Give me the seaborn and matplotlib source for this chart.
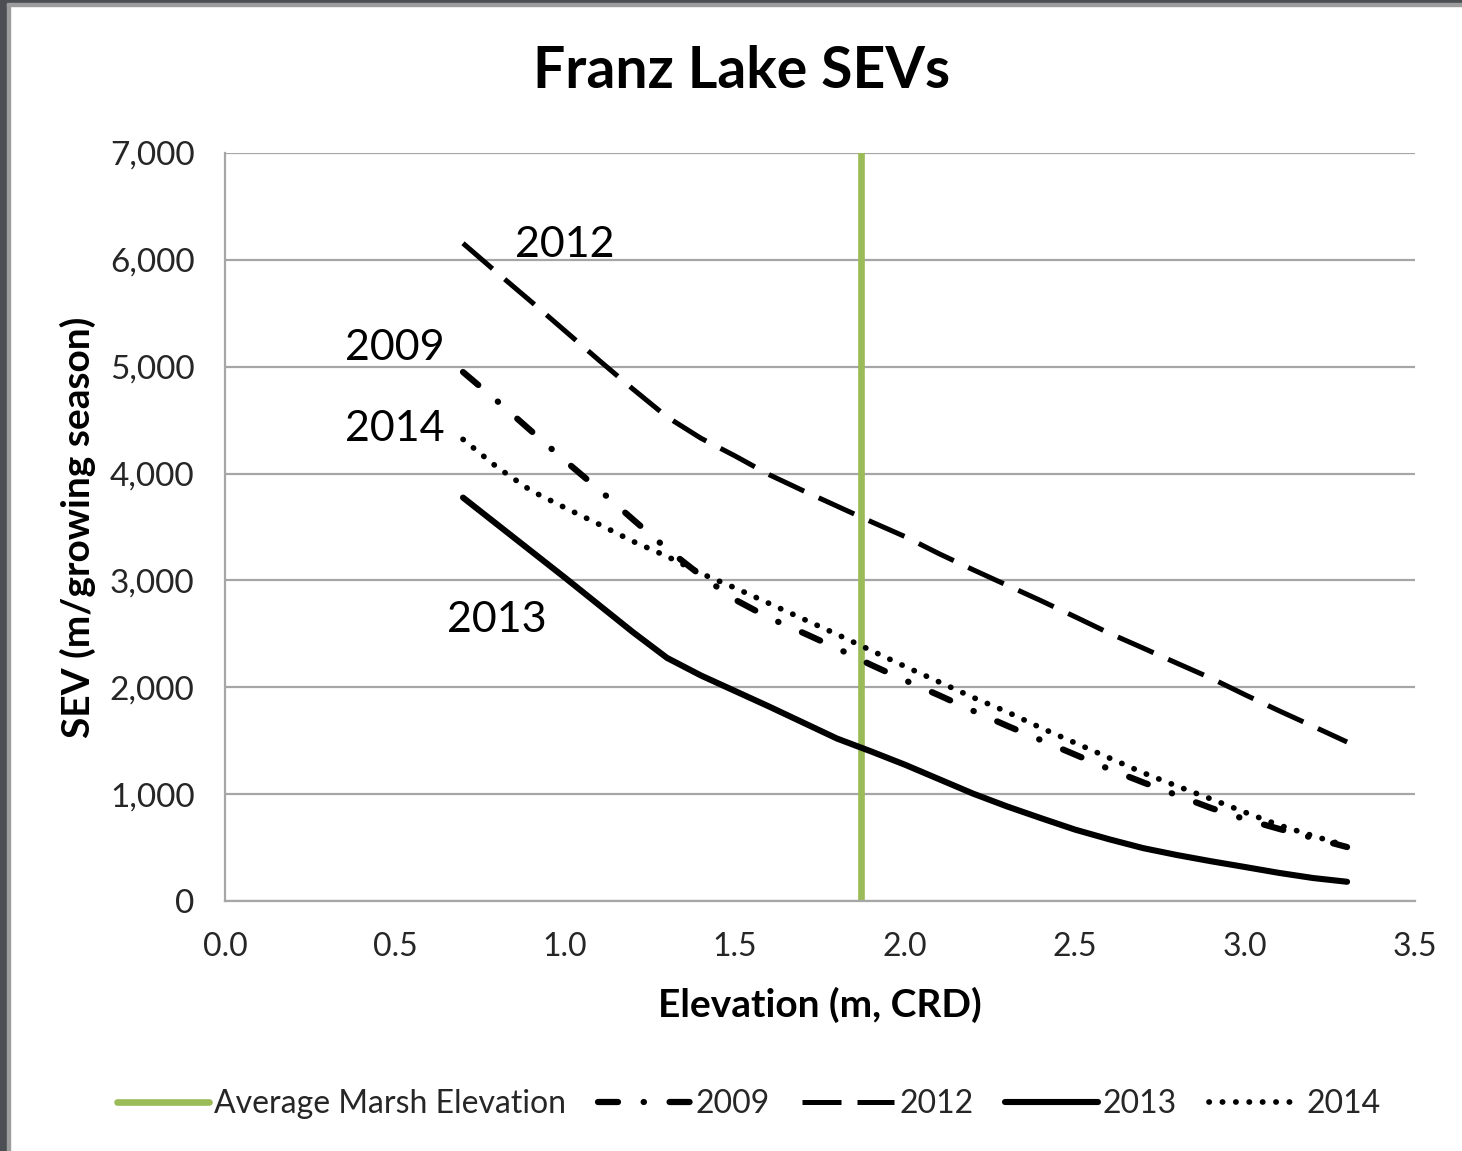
import matplotlib
matplotlib.use("Agg")
import matplotlib.pyplot as plt
from matplotlib.patches import Rectangle
from matplotlib.lines import Line2D
from matplotlib.ticker import FuncFormatter
import numpy as np
import pandas as pd
import seaborn as sns

# elevation (m, CRD) and SEV (m/growing season)
elevation = [0.7, 0.8, 0.9, 1.0, 1.1, 1.2, 1.3, 1.4, 1.5, 1.6, 1.7, 1.8, 1.9, 2.0,
             2.1, 2.2, 2.3, 2.4, 2.5, 2.6, 2.7, 2.8, 2.9, 3.0, 3.1, 3.2, 3.3]
sev_2009 = [4950, 4680, 4400, 4120, 3850, 3570, 3295, 3045, 2820, 2650, 2510, 2365,
            2210, 2065, 1925, 1780, 1640, 1505, 1370, 1235, 1110, 990, 870, 765,
            675, 590, 505]
sev_2012 = [6155, 5880, 5610, 5335, 5060, 4790, 4530, 4330, 4165, 3990, 3840, 3695,
            3550, 3410, 3250, 3100, 2955, 2810, 2660, 2507, 2367, 2225, 2085, 1930,
            1780, 1635, 1488]
sev_2013 = [3775, 3525, 3275, 3025, 2770, 2515, 2275, 2110, 1965, 1820, 1670, 1520,
            1400, 1275, 1140, 1005, 885, 775, 668, 578, 495, 430, 372, 318, 263,
            215, 180]
sev_2014 = [4320, 4060, 3840, 3680, 3525, 3365, 3225, 3065, 2930, 2785, 2640, 2495,
            2345, 2195, 2050, 1905, 1770, 1620, 1480, 1340, 1200, 1075, 955, 830,
            710, 610, 515]
marsh_elevation = 1.87

years = ['2009', '2012', '2013', '2014']
label_pos = {'2012': (1.0, 6140), '2009': (0.5, 5175),
             '2014': (0.5, 4420), '2013': (0.8, 2630)}

df = pd.DataFrame({'elevation': elevation * 4,
                   'sev': sev_2009 + sev_2012 + sev_2013 + sev_2014,
                   'year': np.repeat(years, len(elevation))})

styles = {
    '2009': dict(lw=4.5, dashes=(3.2, 4.1, 0.05, 4.1), capstyle='round'),
    '2012': dict(lw=3.6, dashes=(7.8, 3.2), capstyle='butt'),
    '2013': dict(lw=4.4, dashes=None, capstyle='round'),
    '2014': dict(lw=4.1, dashes=(0.05, 2.3), capstyle='round'),
}

sns.set_theme(style="white")
plt.rcParams['font.family'] = ['Lato', 'DejaVu Sans']

fig = plt.figure(figsize=(14.62, 11.51), dpi=100)
ax = fig.add_axes([0.1539, 0.2172, 0.8140, 0.6499])

grid_col = '#a6a6a6'
for v in range(0, 7001, 1000):
    ax.axhline(v, color=grid_col, lw=1.6, zorder=0)

ax.axvline(marsh_elevation, color='#9bbb59', lw=4.8, zorder=1)

for yr in years:
    st = styles[yr]
    sub = df[df['year'] == yr]
    sns.lineplot(data=sub, x='elevation', y='sev', ax=ax, color='black',
                 lw=st['lw'], zorder=3, legend=False)
    line = ax.lines[-1]
    if st['dashes'] is not None:
        line.set_dashes(st['dashes'])
    line.set_dash_capstyle(st['capstyle'])
    line.set_solid_capstyle('round')
    line.set_solid_joinstyle('round')

for yr, (tx, ty) in label_pos.items():
    ax.text(tx, ty, yr, ha='center', va='center', fontsize=31, color='black')

ax.set_xlim(0, 3.5)
ax.set_ylim(0, 7000)
ax.set_xticks(np.arange(0, 3.51, 0.5))
ax.set_yticks(range(0, 7001, 1000))
ax.xaxis.set_major_formatter(FuncFormatter(lambda v, p: f'{v:.1f}'))
ax.yaxis.set_major_formatter(FuncFormatter(lambda v, p: f'{int(v):,}'))
ax.tick_params(axis='x', labelsize=23, length=12, width=1.6, color=grid_col,
               direction='out', pad=10)
ax.tick_params(axis='y', labelsize=24, length=12, width=1.6, color=grid_col,
               direction='out', pad=10)
for lab in ax.get_xticklabels() + ax.get_yticklabels():
    lab.set_color('#262626')

for s in ['top', 'right']:
    ax.spines[s].set_visible(False)
for s in ['left', 'bottom']:
    ax.spines[s].set_color(grid_col)
    ax.spines[s].set_linewidth(1.6)

ax.set_xlabel('Elevation (m, CRD)', fontsize=28, fontweight='bold', labelpad=18,
              color='black')
ax.set_ylabel('SEV (m/growing season)', fontsize=28, fontweight='bold', labelpad=10,
              color='black')
fig.text(742 / 1462, 1 - 72 / 1151, 'Franz Lake SEVs', ha='center', va='center',
         fontsize=41, fontweight='bold', color='black')

handles = [Line2D([0], [0], color='#9bbb59', lw=4.8)]
for yr in years:
    st = styles[yr]
    h = Line2D([0], [0], color='black', lw=st['lw'])
    if st['dashes'] is not None:
        h.set_dashes(st['dashes'])
    h.set_dash_capstyle(st['capstyle'])
    handles.append(h)
fig.legend(handles, ['Average Marsh Elevation'] + years, loc='center',
           bbox_to_anchor=(0.512, 0.041), ncol=5, frameon=False, fontsize=23,
           handlelength=2.9, handletextpad=0.15, columnspacing=1.0,
           labelcolor='#262626')

# gray window frame on the left and top edges
fig.patches.append(Rectangle((0, 0), 7 / 1462, 1, transform=fig.transFigure,
                             color='#4b4e53', zorder=10))
fig.patches.append(Rectangle((7 / 1462, 0), 3 / 1462, 1, transform=fig.transFigure,
                             color='#9c9c9c', zorder=10))
fig.patches.append(Rectangle((0, 1 - 3 / 1151), 1, 3 / 1151, transform=fig.transFigure,
                             color='#4b4e53', zorder=10))
fig.patches.append(Rectangle((7 / 1462, 1 - 6 / 1151), 1, 3 / 1151,
                             transform=fig.transFigure, color='#9c9c9c', zorder=10))

fig.savefig('out.png', dpi=100)
